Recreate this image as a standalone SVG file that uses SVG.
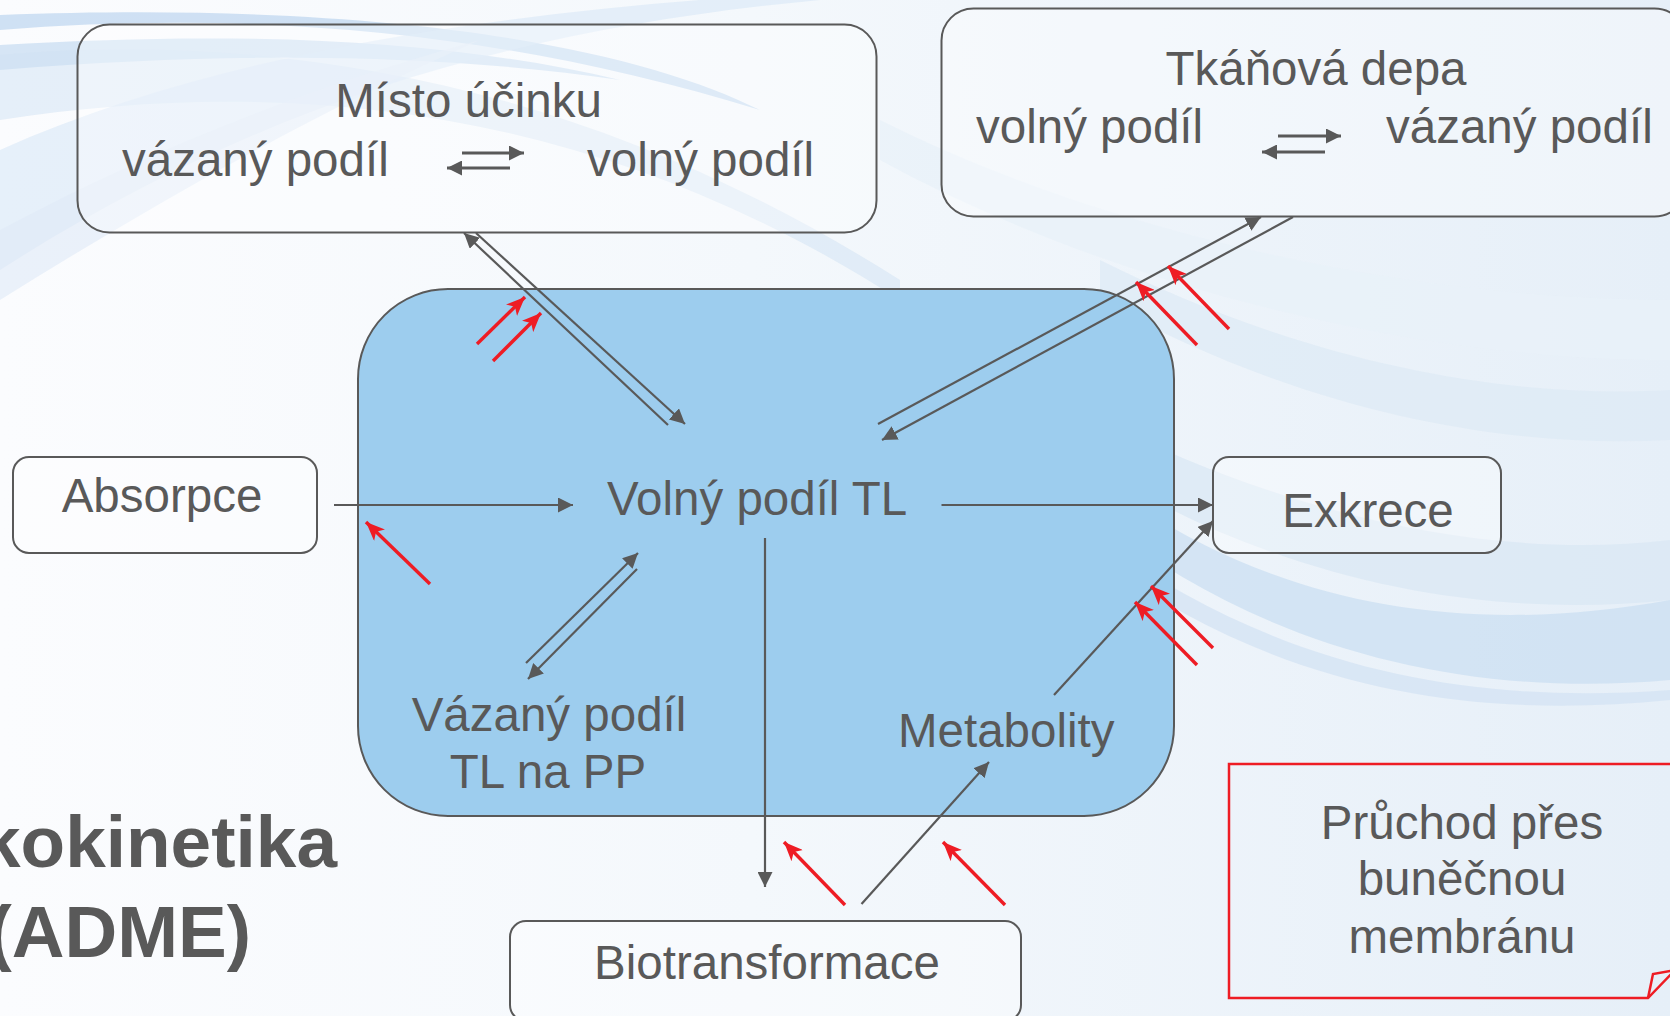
<svg xmlns="http://www.w3.org/2000/svg" width="1670" height="1016" viewBox="0 0 1670 1016">
<defs>
<linearGradient id="bg" x1="0" y1="0" x2="1" y2="0">
<stop offset="0" stop-color="#fbfcfe"/>
<stop offset="0.45" stop-color="#f4f8fc"/>
<stop offset="1" stop-color="#e6eff8"/>
</linearGradient>
<marker id="ah" viewBox="0 0 15 15" refX="15" refY="7.5" markerWidth="15" markerHeight="15" markerUnits="userSpaceOnUse" orient="auto">
<path d="M0,0 L15,7.5 L0,15 Z" fill="#595959"/>
</marker>
<marker id="rh" viewBox="0 0 19 16" refX="19" refY="8" markerWidth="19" markerHeight="16" markerUnits="userSpaceOnUse" orient="auto">
<path d="M0,0 L19,8 L0,16 L5,8 Z" fill="#ee1c24"/>
</marker>
</defs>
<style>
.t{font-family:"Liberation Sans",Arial,sans-serif;font-size:47.5px;fill:#595959}
.m{text-anchor:middle}
.b{font-family:"Liberation Sans",Arial,sans-serif;font-weight:bold;font-size:73px;fill:#595959;text-anchor:end}
.box{fill:#ffffff;fill-opacity:0.35;stroke:#595959;stroke-width:2}
.c{stroke:#595959;stroke-width:2.2;fill:none;marker-end:url(#ah)}
.c3{stroke:#595959;stroke-width:3;fill:none;marker-end:url(#ah)}
.r{stroke:#ee1c24;stroke-width:3.4;fill:none;marker-end:url(#rh)}
</style>
<g id="background">
<rect width="1670" height="1016" fill="url(#bg)"/>
<path d="M0,30 C250,10 500,30 760,110 C640,50 400,0 0,15 Z" fill="#b3cfec" opacity="0.6"/>
<path d="M0,45 C250,30 450,40 620,80 C450,55 250,50 0,70 Z" fill="#a9c9ea" opacity="0.45"/>
<path d="M0,55 C300,30 600,90 900,280 L900,300 C620,120 320,70 0,120 Z" fill="#cfe1f3" opacity="0.5"/>
<path d="M0,150 C200,60 450,20 700,0 L820,0 C500,30 250,110 0,270 Z" fill="#d6e6f5" opacity="0.55"/>
<path d="M0,230 C150,150 300,90 480,40 C320,110 160,200 0,300 Z" fill="#dfeaf6" opacity="0.6"/>
<path d="M880,120 C1100,230 1400,300 1670,300 L1670,360 C1400,360 1100,280 880,160 Z" fill="#e9f1f9" opacity="0.8"/>
<path d="M1100,260 C1300,360 1500,400 1670,390 L1670,440 C1480,450 1280,400 1100,300 Z" fill="#dde9f5" opacity="0.7"/>
<path d="M1100,420 C1300,520 1500,560 1670,540 L1670,600 C1480,620 1280,580 1100,470 Z" fill="#d9e7f4" opacity="0.7"/>
<path d="M1100,520 C1250,640 1450,700 1670,680 L1670,600 C1450,640 1260,600 1100,480 Z" fill="#cbdff2" opacity="0.75"/>
<path d="M1100,560 C1280,690 1470,720 1670,700 L1670,690 C1470,705 1280,670 1100,540 Z" fill="#d4e4f4" opacity="0.8"/>
</g>
<g id="blue-cell">
<rect x="358" y="289" width="816" height="527" rx="90" ry="90" fill="#9dcdee" stroke="#595959" stroke-width="2"/>
</g>
<g id="misto-ucinku">
<rect class="box" x="77.5" y="24.5" width="799" height="208" rx="32" ry="32"/>
<text class="t m" x="468.5" y="117">Místo účinku</text>
<text class="t" x="122" y="175.5">vázaný podíl</text>
<text class="t" x="587" y="175.5">volný podíl</text>
<line class="c3" x1="462" y1="153" x2="524" y2="153"/>
<line class="c3" x1="510" y1="168" x2="447" y2="168"/>
</g>
<g id="tkanova-depa">
<rect class="box" x="941.5" y="8.5" width="745" height="208" rx="32" ry="32"/>
<text class="t m" x="1316" y="85">Tkáňová depa</text>
<text class="t" x="976" y="143">volný podíl</text>
<text class="t" x="1386" y="143">vázaný podíl</text>
<line class="c3" x1="1278" y1="136" x2="1341" y2="136"/>
<line class="c3" x1="1325" y1="152" x2="1262" y2="152"/>
</g>
<g id="absorpce">
<rect class="box" x="13" y="457" width="304" height="96" rx="16" ry="16"/>
<text class="t m" x="162" y="512">Absorpce</text>
</g>
<g id="volny-podil">
<text class="t" x="607" y="515">Volný podíl TL</text>
</g>
<g id="exkrece">
<rect class="box" x="1213" y="457" width="288" height="96" rx="16" ry="16"/>
<text class="t m" x="1368" y="527">Exkrece</text>
</g>
<g id="vazany-podil">
<text class="t m" x="549" y="731">Vázaný podíl</text>
<text class="t m" x="548" y="788">TL na PP</text>
</g>
<g id="metabolity">
<text class="t" x="898" y="747">Metabolity</text>
</g>
<g id="biotransformace">
<rect class="box" x="510" y="921" width="511" height="100" rx="16" ry="16"/>
<text class="t m" x="767" y="979">Biotransformace</text>
</g>
<g id="title">
<text class="b" x="337" y="867">kokinetika</text>
<text class="b" x="251" y="957">(ADME)</text>
</g>
<g id="note">
<path d="M1229,764 H1700 V945 L1675,970 L1648,998 H1229 Z" fill="none" stroke="#ee1c24" stroke-width="2.5"/>
<path d="M1648,998 L1653,974 L1675,970" fill="none" stroke="#ee1c24" stroke-width="2.5" stroke-linejoin="miter"/>
<text class="t m" x="1462" y="839">Průchod přes</text>
<text class="t m" x="1462" y="895">buněčnou</text>
<text class="t m" x="1462" y="953">membránu</text>
</g>
<g id="connectors">
<line class="c" x1="334" y1="505" x2="573" y2="505"/>
<line class="c" x1="941.5" y1="505" x2="1213" y2="505"/>
<line class="c" x1="1054" y1="695" x2="1213" y2="521"/>
<line class="c" x1="765" y1="538" x2="765" y2="887"/>
<line class="c" x1="861.5" y1="904" x2="989" y2="762"/>
<line class="c" x1="668" y1="425" x2="464" y2="233"/>
<line class="c" x1="476" y1="233" x2="685" y2="424"/>
<line class="c" x1="878" y1="424" x2="1261" y2="217"/>
<line class="c" x1="1293" y1="217" x2="882" y2="440"/>
<line class="c" x1="526" y1="663" x2="638" y2="553"/>
<line class="c" x1="637" y1="569" x2="528" y2="679"/>
<line class="r" x1="477" y1="344" x2="525" y2="297"/>
<line class="r" x1="493" y1="361" x2="541" y2="313"/>
<line class="r" x1="1197" y1="345" x2="1136" y2="282"/>
<line class="r" x1="1229" y1="329" x2="1168" y2="266"/>
<line class="r" x1="430" y1="584" x2="366" y2="522"/>
<line class="r" x1="1213" y1="648" x2="1151" y2="586"/>
<line class="r" x1="1197" y1="665" x2="1135" y2="602"/>
<line class="r" x1="845" y1="905" x2="784" y2="842"/>
<line class="r" x1="1005" y1="905" x2="943" y2="842"/>
</g>
</svg>
